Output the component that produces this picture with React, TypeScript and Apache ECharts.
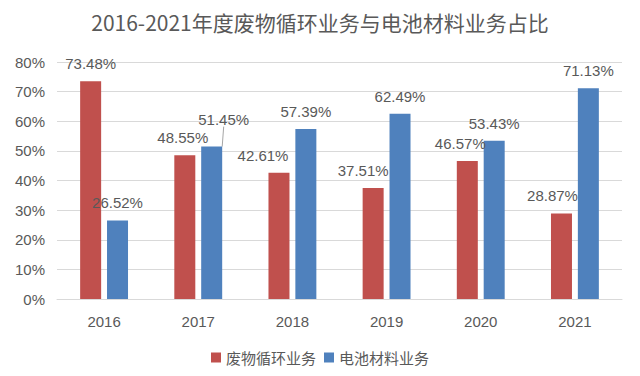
import React, { useEffect, useRef } from "react";
import * as echarts from "echarts";

const categories = ["2016", "2017", "2018", "2019", "2020", "2021"];
const wasteValues = [73.48, 48.55, 42.61, 37.51, 46.57, 28.87];
const batteryValues = [26.52, 51.45, 57.39, 62.49, 53.43, 71.13];
const seriesNames = ["废物循环业务", "电池材料业务"];
const wasteLabelOffsets = [[0, 0], [-2, 0], [-16, 0], [-10, 0], [-7, 0], [-9, 0]];
const batteryLabelOffsets = [[16, 0], [0, 0], [0, 0], [0, 0], [0, 0], [0, 0]];

const FONT = "'Liberation Sans', 'Noto Sans CJK SC', sans-serif";
const GREY = "#595959";

export default function App() {
  const ref = useRef<HTMLDivElement>(null);
  useEffect(() => {
    if (!ref.current) return;
    const chart = echarts.init(ref.current, undefined, { renderer: "svg" });
    const mk = (vals: number[], offs: number[][], lineIdx: number) =>
      vals.map((v, i) => ({
        value: v,
        label: { offset: offs[i] },
        labelLine: { show: i === lineIdx },
      }));
    const lbl = {
      show: true,
      position: "top",
      distance: 10,
      fontSize: 15,
      color: GREY,
      formatter: (p: any) => p.value.toFixed(2) + "%",
    };
    chart.setOption({
      animation: false,
      backgroundColor: "#ffffff",
      textStyle: { fontFamily: FONT },
      title: {
        text: "2016-2021年度废物循环业务与电池材料业务占比",
        left: "center",
        top: 6,
        textStyle: { fontFamily: "'Noto Sans CJK SC', sans-serif", fontSize: 21, fontWeight: "normal", color: GREY },
      },
      legend: {
        data: seriesNames,
        top: 345,
        left: "center",
        icon: "rect",
        itemWidth: 10,
        itemHeight: 10,
        itemGap: 8,
        textStyle: { fontSize: 15, color: GREY, fontFamily: "'Noto Sans CJK SC', sans-serif" },
      },
      grid: { left: 57, right: 18, top: 62, bottom: 77 },
      xAxis: {
        type: "category",
        data: categories,
        axisTick: { show: false },
        axisLine: { lineStyle: { color: "#d9d9d9" } },
        axisLabel: { fontSize: 15, color: GREY, margin: 15 },
      },
      yAxis: {
        type: "value",
        min: 0,
        max: 80,
        interval: 10,
        axisLabel: { fontSize: 15, color: GREY, formatter: "{value}%", margin: 12 },
        splitLine: { lineStyle: { color: "#d9d9d9" } },
        axisLine: { show: false },
      },
      series: [
        {
          name: seriesNames[0],
          type: "bar",
          data: mk(wasteValues, wasteLabelOffsets, -1),
          barWidth: 21,
          barGap: "28%",
          itemStyle: { color: "#C0504D" },
          label: lbl,
        },
        {
          name: seriesNames[1],
          type: "bar",
          data: mk(batteryValues, batteryLabelOffsets, 1),
          barWidth: 21,
          itemStyle: { color: "#4F81BD" },
          label: lbl,
          labelLine: { show: false, lineStyle: { color: "#a6a6a6", width: 1 } },
          labelLayout: (params: any) => (params.dataIndex === 1 ? { dx: 12, dy: -10 } : {}),
        },
      ],
    });
    return () => chart.dispose();
  }, []);
  return <div ref={ref} style={{ position: "fixed", left: 0, top: 0, width: 640, height: 376 }} />;
}
